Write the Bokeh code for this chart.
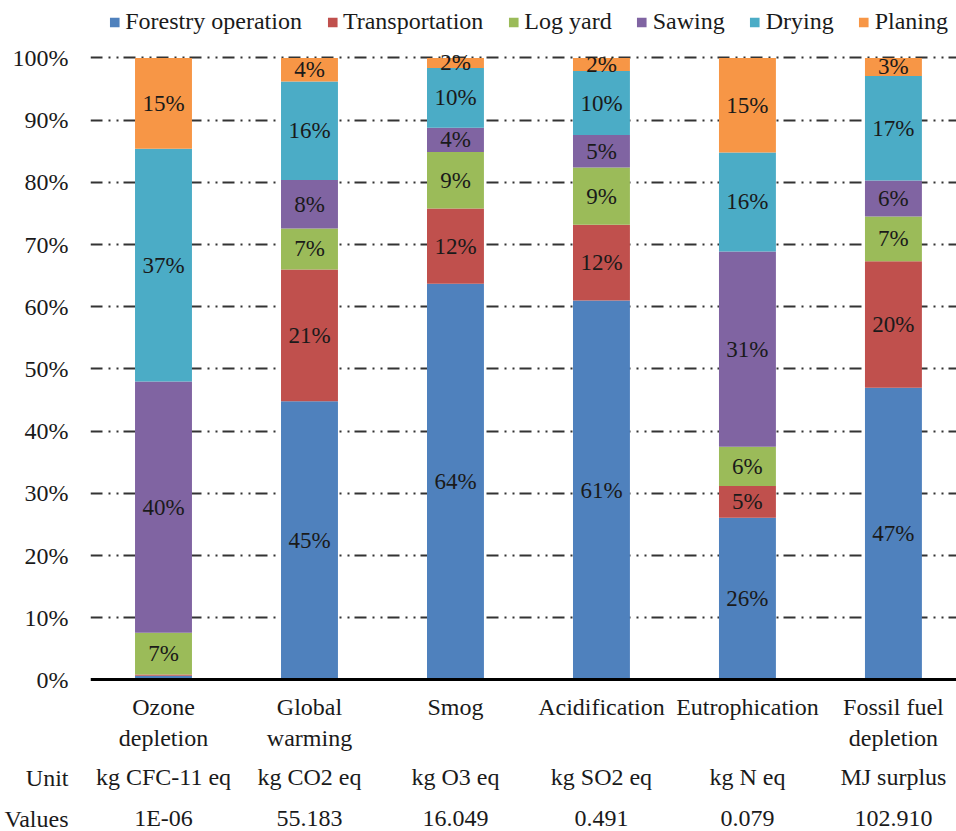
from bokeh.plotting import figure
from bokeh.models import (ColumnDataSource, Range1d, FixedTicker, LinearAxis, Legend,
                          LegendItem, Grid)
from bokeh.core.properties import value
from bokeh.embed import file_html
from bokeh.resources import INLINE

# ---- data ----
categories = ["Ozone\ndepletion", "Global\nwarming", "Smog", "Acidification",
              "Eutrophication", "Fossil fuel\ndepletion"]
units = ["kg CFC-11 eq", "kg CO2 eq", "kg O3 eq", "kg SO2 eq", "kg N eq", "MJ surplus"]
totals = ["1E-06", "55.183", "16.049", "0.491", "0.079", "102.910"]
row_headers = ["Unit", "Values"]

stages = ["Forestry operation", "Transportation", "Log yard", "Sawing", "Drying", "Planing"]
forestry = [0.7, 44.8, 63.7, 61.0, 26.1, 47.0]
transport = [0.2, 21.2, 12.1, 12.2, 5.1, 20.3]
log_yard = [6.7, 6.6, 9.1, 9.2, 6.3, 7.2]
sawing = [40.4, 7.8, 3.9, 5.2, 31.4, 5.8]
drying = [37.4, 15.8, 9.6, 10.3, 15.9, 16.8]
planing = [14.6, 3.8, 1.6, 2.1, 15.2, 2.9]
y_ticks = list(range(0, 101, 10))

colors = ["#4F81BD", "#C0504D", "#9BBB59", "#8064A2", "#4BACC6", "#F79646"]
FONT = "Liberation Serif"
FS = "24px"

# positions (in y data units) of the table rows below the chart
row_y = [-15.8, -22.4]

series = [forestry, transport, log_yard, sawing, drying, planing]
keys = ["s%d" % i for i in range(len(stages))]
xs = list(range(len(categories)))
data = {"x": xs}
for k, s in zip(keys, series):
    data[k] = s
source = ColumnDataSource(data)

p = figure(width=956, height=831, output_backend="svg", toolbar_location=None,
           x_range=Range1d(-0.5, 5.432), y_range=Range1d(-24.36, 109.24),
           min_border_left=90, min_border_right=0, min_border_top=0, min_border_bottom=0,
           x_axis_type=None, y_axis_type=None)
p.outline_line_color = None
p.background_fill_color = "white"
p.border_fill_color = "white"

grid = Grid(dimension=1, ticker=FixedTicker(ticks=y_ticks[1:]))
grid.grid_line_color = "#333333"
grid.grid_line_width = 2
grid.grid_line_dash = "12 6 2 6 2 5"
p.add_layout(grid)

renderers = p.vbar_stack(keys, x="x", width=0.39, color=colors, line_color=None,
                         source=source)

# labels in bars
lx, ly, lt = [], [], []
for i in xs:
    base = 0.0
    for s in series:
        v = s[i]
        if v >= 1:
            lx.append(i)
            ly.append(base + v / 2)
            lt.append("%d%%" % round(v))
        base += v
p.text(x=lx, y=ly, text=lt, text_align="center", text_baseline="middle",
       text_font=value(FONT), text_font_size="23px", text_color="#1a1a1a")

# y axis (percent ticks + the two table row headers)
overrides = {t: "%d%%" % t for t in y_ticks}
for yy, h in zip(row_y, row_headers):
    overrides[yy] = h
yaxis = LinearAxis(ticker=FixedTicker(ticks=row_y + y_ticks),
                   major_label_overrides=overrides)
yaxis.axis_line_color = None
yaxis.major_tick_line_color = None
yaxis.minor_tick_line_color = None
yaxis.major_label_standoff = 16
yaxis.major_label_text_font = FONT
yaxis.major_label_text_font_size = FS
yaxis.major_label_text_color = "#1a1a1a"
p.add_layout(yaxis, "left")

def bottom_axis(labels, loc, standoff, line=False):
    ax = LinearAxis(ticker=FixedTicker(ticks=xs), fixed_location=loc,
                    major_label_overrides={i: t for i, t in zip(xs, labels)})
    ax.major_tick_line_color = None
    ax.minor_tick_line_color = None
    if line:
        ax.axis_line_color = "black"
        ax.axis_line_width = 3
    else:
        ax.axis_line_color = None
    ax.major_label_standoff = standoff
    ax.major_label_text_font = FONT
    ax.major_label_text_font_size = FS
    ax.major_label_text_color = "#1a1a1a"
    p.add_layout(ax, "below")
    return ax

bottom_axis(categories, 0, 8, line=True)
bottom_axis(units, row_y[0] + 3.2, 0)
bottom_axis(totals, row_y[1] + 3.2, 0)

legend = Legend(items=[LegendItem(label=n, renderers=[r]) for n, r in zip(stages, renderers)],
                orientation="horizontal", location="top_right")
legend.border_line_color = None
legend.background_fill_alpha = 0
legend.label_text_font = FONT
legend.label_text_font_size = FS
legend.label_text_color = "#1a1a1a"
legend.glyph_width = 12
legend.glyph_height = 12
legend.label_standoff = 5
legend.spacing = 24
legend.padding = 0
legend.margin = 8
p.add_layout(legend, "center")

open("out.html", "w").write(file_html(p, INLINE))
